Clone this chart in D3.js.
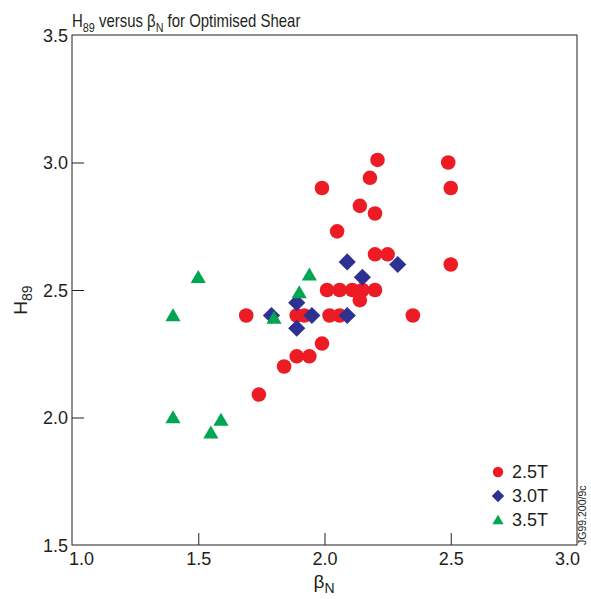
<!DOCTYPE html>
<html>
<head>
<meta charset="utf-8">
<script src="https://cdn.jsdelivr.net/npm/d3@7"></script>
<style>
  html, body { margin: 0; padding: 0; background: #fff; }
  svg { display: block; font-family: "Liberation Sans", Arial, Helvetica, sans-serif; }
</style>
</head>
<body>
<svg id="chart" width="591" height="599"></svg>
<script>
// ---- data ----
const series = ["2.5T", "3.0T", "3.5T"];
const betaN_25 = [2.21, 2.49, 2.18, 1.99, 2.50, 2.14, 2.20, 2.05, 2.20, 2.25, 2.50,
                  2.01, 2.06, 2.11, 2.15, 2.20, 2.14,
                  1.69, 1.89, 1.92, 2.02, 2.06, 2.35,
                  1.99, 1.89, 1.94, 1.84, 1.74];
const h89_25   = [3.01, 3.00, 2.94, 2.90, 2.90, 2.83, 2.80, 2.73, 2.64, 2.64, 2.60,
                  2.50, 2.50, 2.50, 2.50, 2.50, 2.46,
                  2.40, 2.40, 2.40, 2.40, 2.40, 2.40,
                  2.29, 2.24, 2.24, 2.20, 2.09];
const betaN_30 = [1.79, 1.89, 1.95, 1.89, 2.09, 2.09, 2.15, 2.29];
const h89_30   = [2.40, 2.45, 2.40, 2.35, 2.40, 2.61, 2.55, 2.60];
const betaN_35 = [1.50, 1.94, 1.90, 1.40, 1.80, 1.40, 1.59, 1.55];
const h89_35   = [2.55, 2.56, 2.49, 2.40, 2.39, 2.00, 1.99, 1.94];
const xTicks = [1.0, 1.5, 2.0, 2.5, 3.0];
const yTicks = [1.5, 2.0, 2.5, 3.0, 3.5];
const colors = ["#ed1c24", "#2e3192", "#00a651"];

// ---- layout ----
const svg = d3.select("#chart");
const L = 72, R = 577, T = 35, B = 545;
const x = d3.scaleLinear().domain([1.0, 3.0]).range([L, R]);
const y = d3.scaleLinear().domain([1.5, 3.5]).range([B, T]);
const axisColor = "#231f20";

// frame
svg.append("rect").attr("x", L).attr("y", T).attr("width", R - L).attr("height", B - T)
  .attr("fill", "none").attr("stroke", axisColor).attr("stroke-width", 1);

// bottom axis (inward ticks)
const xAxis = d3.axisBottom(x).tickValues(xTicks).tickSizeInner(-12).tickSizeOuter(0)
  .tickFormat(d3.format(".1f"));
const gx = svg.append("g").attr("transform", `translate(0,${B})`).call(xAxis);
gx.select(".domain").remove();
gx.selectAll(".tick line").attr("stroke", axisColor);
gx.selectAll(".tick text").attr("fill", "#231f20").attr("font-size", 18)
  .attr("font-family", "Liberation Sans, Arial, sans-serif").attr("dy", "0").attr("y", 20)
  .attr("dx", d => d === 1.0 ? 9 : (d === 3.0 ? -10 : 0));
gx.selectAll(".tick").filter(d => d === 1.0 || d === 3.0).select("line").remove();

// left axis (inward ticks)
const yAxis = d3.axisLeft(y).tickValues(yTicks).tickSizeInner(-12).tickSizeOuter(0)
  .tickFormat(d3.format(".1f"));
const gy = svg.append("g").attr("transform", `translate(${L},0)`).call(yAxis);
gy.select(".domain").remove();
gy.selectAll(".tick line").attr("stroke", axisColor);
gy.selectAll(".tick text").attr("fill", "#231f20").attr("font-size", 18)
  .attr("font-family", "Liberation Sans, Arial, sans-serif").attr("x", -4).attr("dy", "0.34em");
gy.selectAll(".tick").filter(d => d === 1.5 || d === 3.5).select("line").remove();

// title (slightly condensed like the original)
const title = svg.append("text").attr("transform", `translate(${L},27) scale(0.83,1)`)
  .attr("font-size", 18).attr("fill", "#231f20");
title.append("tspan").text("H");
title.append("tspan").text("89").attr("font-size", 13).attr("dy", 5);
title.append("tspan").text(" versus β").attr("dy", -5);
title.append("tspan").text("N").attr("font-size", 13).attr("dy", 5);
title.append("tspan").text(" for Optimised Shear").attr("dy", -5);

// x axis title
const xt = svg.append("text").attr("x", 324).attr("y", 588).attr("font-size", 19)
  .attr("text-anchor", "middle").attr("fill", "#231f20");
xt.append("tspan").text("β");
xt.append("tspan").text("N").attr("font-size", 14).attr("dy", 5);

// y axis title
const yt = svg.append("text").attr("transform", "translate(27,300) rotate(-90)")
  .attr("font-size", 19).attr("text-anchor", "middle").attr("fill", "#231f20");
yt.append("tspan").text("H");
yt.append("tspan").text("89").attr("font-size", 14).attr("dy", 5);

// marker shapes
const circlePath = r => `M${-r},0A${r},${r} 0 1,0 ${r},0A${r},${r} 0 1,0 ${-r},0Z`;
const diamondPath = h => `M0,${-h}L${h},0L0,${h}L${-h},0Z`;
const trianglePath = s => `M0,${-s * 0.95}L${s},${s * 0.75}L${-s},${s * 0.75}Z`;
const shapes = [circlePath(7.3), diamondPath(8.6), trianglePath(7.6)];

const data = [
  betaN_25.map((b, i) => ({ b, h: h89_25[i] })),
  betaN_30.map((b, i) => ({ b, h: h89_30[i] })),
  betaN_35.map((b, i) => ({ b, h: h89_35[i] }))
];

data.forEach((pts, si) => {
  svg.append("g").selectAll("path").data(pts).join("path")
    .attr("d", shapes[si])
    .attr("transform", d => `translate(${x(d.b)},${y(d.h)})`)
    .attr("fill", colors[si]);
});

// legend
const legShapes = [circlePath(5.2), diamondPath(6.2), trianglePath(5.6)];
const legY = [472, 496, 520];
series.forEach((s, i) => {
  svg.append("path").attr("d", legShapes[i])
    .attr("transform", `translate(498,${legY[i]})`).attr("fill", colors[i]);
  svg.append("text").attr("x", 512).attr("y", legY[i] + 6).attr("font-size", 18)
    .attr("fill", "#231f20").text(s);
});

// side code
svg.append("text").attr("transform", "translate(586,545) rotate(-90)")
  .attr("font-size", 10.5).attr("fill", "#231f20").text("JG99.200/9c");
</script>
</body>
</html>
